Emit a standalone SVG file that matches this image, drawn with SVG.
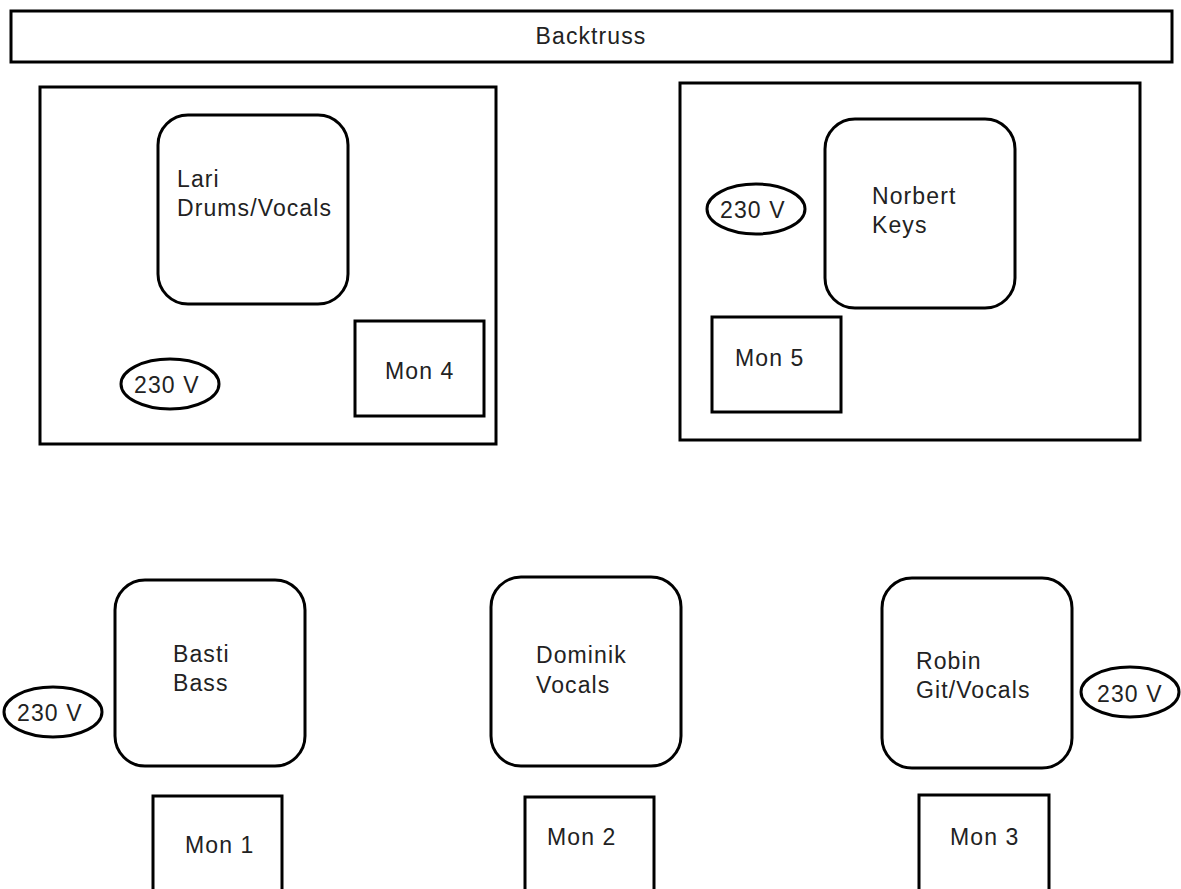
<svg xmlns="http://www.w3.org/2000/svg" width="1181" height="889" viewBox="0 0 1181 889">
<style>
.b{fill:#fff;stroke:#000;stroke-width:3}
.t{font-family:"Liberation Sans",Arial,sans-serif;font-size:23px;letter-spacing:1.1px;fill:#222}
</style>
<rect width="1181" height="889" fill="#fff"/>
<g id="backtruss"><rect class="b" x="11" y="11" width="1161" height="51"/><text class="t" x="591" y="44" text-anchor="middle">Backtruss</text></g>
<g id="riser-left"><rect class="b" x="40" y="87" width="456" height="357"/></g>
<g id="riser-right"><rect class="b" x="680" y="83" width="460" height="357"/></g>
<g id="lari"><rect class="b" x="158" y="115" width="190" height="189" rx="30"/><text class="t" x="177" y="187">Lari</text><text class="t" x="177" y="216">Drums/Vocals</text></g>
<g id="mon4"><rect class="b" x="355" y="321" width="129" height="95"/><text class="t" x="385" y="379">Mon 4</text></g>
<g id="power-lari"><ellipse class="b" cx="170" cy="384" rx="49" ry="25"/><text class="t" x="134" y="393">230 V</text></g>
<g id="norbert"><rect class="b" x="825" y="119" width="190" height="189" rx="30"/><text class="t" x="872" y="204">Norbert</text><text class="t" x="872" y="233">Keys</text></g>
<g id="power-norbert"><ellipse class="b" cx="756" cy="209" rx="49" ry="25"/><text class="t" x="720" y="218">230 V</text></g>
<g id="mon5"><rect class="b" x="712" y="317" width="129" height="95"/><text class="t" x="735" y="366">Mon 5</text></g>
<g id="basti"><rect class="b" x="115" y="580" width="190" height="186" rx="30"/><text class="t" x="173" y="662">Basti</text><text class="t" x="173" y="691">Bass</text></g>
<g id="power-basti"><ellipse class="b" cx="53" cy="712" rx="49" ry="25"/><text class="t" x="17" y="721">230 V</text></g>
<g id="mon1"><rect class="b" x="153" y="796" width="129" height="110"/><text class="t" x="185" y="853">Mon 1</text></g>
<g id="dominik"><rect class="b" x="491" y="577" width="190" height="189" rx="30"/><text class="t" x="536" y="663">Dominik</text><text class="t" x="536" y="693">Vocals</text></g>
<g id="mon2"><rect class="b" x="525" y="797" width="129" height="110"/><text class="t" x="547" y="845">Mon 2</text></g>
<g id="robin"><rect class="b" x="882" y="578" width="190" height="190" rx="30"/><text class="t" x="916" y="669">Robin</text><text class="t" x="916" y="698">Git/Vocals</text></g>
<g id="power-robin"><ellipse class="b" cx="1130" cy="692" rx="49" ry="25"/><text class="t" x="1097" y="702">230 V</text></g>
<g id="mon3"><rect class="b" x="919" y="795" width="130" height="110"/><text class="t" x="950" y="845">Mon 3</text></g>
<g id="connectors"/>
</svg>
